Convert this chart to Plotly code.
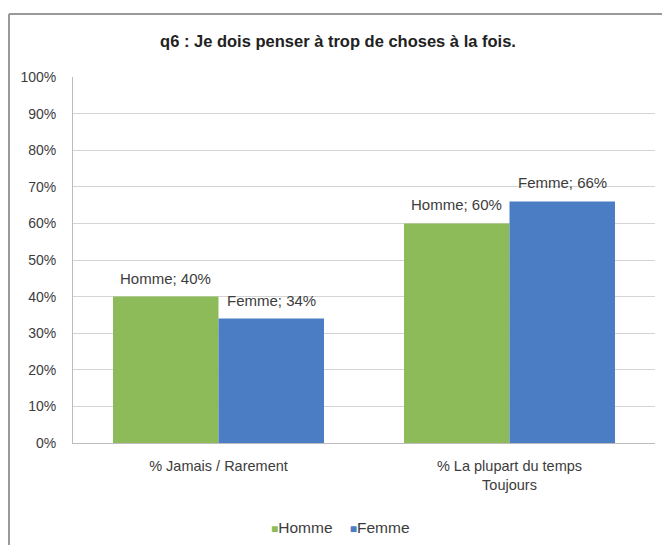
import plotly.graph_objects as go

categories = ["% Jamais / Rarement", "% La plupart du temps<br>Toujours"]
series_names = ["Homme", "Femme"]
homme = [0.40, 0.60]
femme = [0.34, 0.66]
colors = ["#8DBB5A", "#4A7DC4"]
title = "q6 : Je dois penser à trop de choses à la fois."
y_ticks = [i / 10 for i in range(11)]

FONT = "Liberation Sans"
TXT = "#3c3c3c"

W, H = 662, 545
ML, MR, MT, MB = 73, 7, 77, 102
BARGAP = 0.275
plot_w = W - ML - MR
plot_h = H - MT - MB
bar_px = plot_w / len(categories) * (1 - BARGAP) / len(series_names)

fig = go.Figure()
for name, vals, col in zip(series_names, [homme, femme], colors):
    fig.add_trace(go.Bar(
        name=name, x=categories, y=vals, marker_color=col,
        marker_line_width=0, showlegend=False, hoverinfo="skip",
    ))

# data labels
for si, (name, vals) in enumerate(zip(series_names, [homme, femme])):
    shift = (si - (len(series_names) - 1) / 2) * bar_px
    for cat, v in zip(categories, vals):
        fig.add_annotation(x=cat, y=v, xref="x", yref="y", text=f"{name}; {round(v*100)}%",
                           showarrow=False, xanchor="center", yanchor="bottom",
                           xshift=shift, yshift=8,
                           font=dict(family=FONT, size=15, color=TXT))

# legend (compact, Excel-like)
legend_text = "&nbsp;&nbsp;&nbsp;&nbsp;".join(
    f"<span style='color:{c};font-size:12px'>■</span>{n}" for n, c in zip(series_names, colors))
fig.add_annotation(x=(340 - ML) / plot_w, y=(MT + plot_h - 527) / plot_h,
                   xref="paper", yref="paper", text=legend_text, showarrow=False,
                   xanchor="center", yanchor="middle",
                   font=dict(family=FONT, size=15.5, color=TXT))

fig.update_layout(
    width=W, height=H,
    paper_bgcolor="white", plot_bgcolor="white",
    margin=dict(l=ML, r=MR, t=MT, b=MB),
    barmode="group", bargap=BARGAP, bargroupgap=0,
    title=dict(text=f"<b>{title}</b>", x=338 / W, xanchor="center",
               y=1 - 41 / H, yanchor="middle",
               font=dict(family=FONT, size=16.5, color="#222222")),
    font=dict(family=FONT, color=TXT),
    showlegend=False,
    hovermode=False,
    yaxis=dict(range=[0, 1], tickvals=y_ticks, tickformat=".0%",
               showgrid=True, gridcolor="#d4d4d4", gridwidth=1,
               showline=True, linecolor="#bcbcbc", linewidth=1,
               ticks="", ticklabelstandoff=13,
               tickfont=dict(family=FONT, size=14, color=TXT), zeroline=False),
    xaxis=dict(showline=True, linecolor="#bcbcbc", linewidth=1, ticks="",
               ticklabelstandoff=10,
               tickfont=dict(family=FONT, size=14.5, color=TXT)),
)

# outer frame (top and left edges visible)
fx = (9 - ML) / plot_w
fy = (MT + plot_h - 14) / plot_h
fig.add_shape(type="line", xref="paper", yref="paper",
              x0=fx, x1=1.2, y0=fy, y1=fy, line=dict(color="#9a9a9a", width=2))
fig.add_shape(type="line", xref="paper", yref="paper",
              x0=fx, x1=fx, y0=fy, y1=-0.4, line=dict(color="#9a9a9a", width=2))

fig.write_html("out.html", config={"displayModeBar": False},
               post_script="document.body.style.margin='0';")
